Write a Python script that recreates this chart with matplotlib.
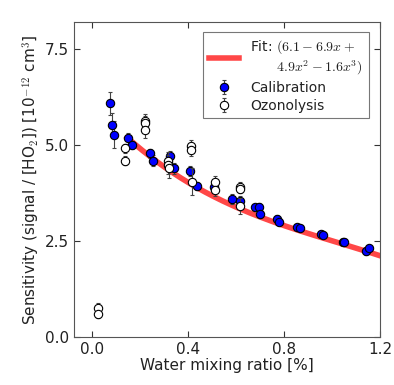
import numpy as np
import matplotlib.pyplot as plt

# Calibration points: water mixing ratio [%], sensitivity, error
cal_x = [0.076, 0.083, 0.090, 0.150, 0.167, 0.243, 0.254, 0.326, 0.340, 0.407,
         0.437, 0.507, 0.583, 0.614, 0.680, 0.694, 0.700, 0.770, 0.777, 0.854,
         0.868, 0.955, 0.962, 1.045, 1.050, 1.139, 1.153]
cal_y = [6.08, 5.52, 5.26, 5.17, 5.00, 4.78, 4.59, 4.71, 4.39, 4.32,
         3.93, 3.89, 3.59, 3.54, 3.37, 3.38, 3.19, 3.06, 3.00, 2.87,
         2.83, 2.67, 2.66, 2.48, 2.46, 2.24, 2.31]
cal_err = [0.30, 0.30, 0.35, 0.15, 0.10, 0.12, 0.15, 0.12, 0.15, 0.12,
           0.10, 0.10, 0.12, 0.12, 0.10, 0.10, 0.10, 0.12, 0.10, 0.08,
           0.08, 0.08, 0.08, 0.08, 0.08, 0.10, 0.08]

# Ozonolysis points
oz_x = [0.023, 0.023, 0.136, 0.136, 0.222, 0.222, 0.222, 0.315, 0.315, 0.319,
        0.414, 0.414, 0.417, 0.511, 0.511, 0.614, 0.614, 0.618]
oz_y = [0.76, 0.60, 4.91, 4.59, 5.61, 5.56, 5.39, 4.57, 4.48, 4.39,
        4.98, 4.87, 4.04, 4.04, 3.83, 3.91, 3.86, 3.41]
oz_err = [0.12, 0.12, 0.12, 0.12, 0.20, 0.20, 0.20, 0.25, 0.25, 0.25,
          0.15, 0.15, 0.35, 0.15, 0.15, 0.12, 0.12, 0.20]

# Fit polynomial coefficients (highest power first)
fit_coef = [-1.6, 4.9, -6.9, 6.1]
fit_range = [0.147, 1.2]

plt.rcParams['mathtext.fontset'] = 'cm'
plt.rcParams['text.color'] = '#222222'
plt.rcParams['axes.labelcolor'] = '#222222'
fig, ax = plt.subplots(figsize=(3.94, 3.85), dpi=100)

xf = np.linspace(fit_range[0], fit_range[1], 200)
ax.plot(xf, np.polyval(fit_coef, xf), color='#ff3333', lw=4, alpha=0.9, zorder=3,
        label='Fit: $(6.1-6.9x+$\n      $4.9x^2-1.6x^3)$')

ax.errorbar(cal_x, cal_y, yerr=cal_err, fmt='o', mfc='#0000ff', mec='black',
            mew=0.8, ms=6, ecolor='#444444', elinewidth=0.8, capsize=1.5,
            zorder=4, label='Calibration')
ax.errorbar(oz_x, oz_y, yerr=oz_err, fmt='o', mfc='white', mec='black',
            mew=0.8, ms=6, ecolor='#444444', elinewidth=0.8, capsize=1.5,
            zorder=5, label='Ozonolysis')

ax.set_xlim(-0.075, 1.2)
ax.set_ylim(0, 8.2)
ax.set_xticks([0.0, 0.4, 0.8, 1.2])
ax.set_yticks([0.0, 2.5, 5.0, 7.5])
ax.tick_params(direction='in', top=True, right=True, labelsize=11, length=4,
               color='#333333', labelcolor='#222222')
for s in ax.spines.values():
    s.set_color('#555555')

ax.set_xlabel('Water mixing ratio [%]', fontsize=11, labelpad=1)
ax.set_ylabel('Sensitivity (signal / [HO$_2$]) [10$^{-12}$ cm$^3$]',
              fontsize=11, labelpad=2)

leg = ax.legend(loc='upper right', fontsize=10, fancybox=False,
                handlelength=2.2, borderpad=0.4, labelspacing=0.3,
                bbox_to_anchor=(0.985, 0.99))
leg.get_frame().set_edgecolor('#555555')
leg.get_frame().set_linewidth(0.8)

fig.subplots_adjust(left=0.188, right=0.965, top=0.943, bottom=0.125)
fig.savefig('out.png', dpi=100)
